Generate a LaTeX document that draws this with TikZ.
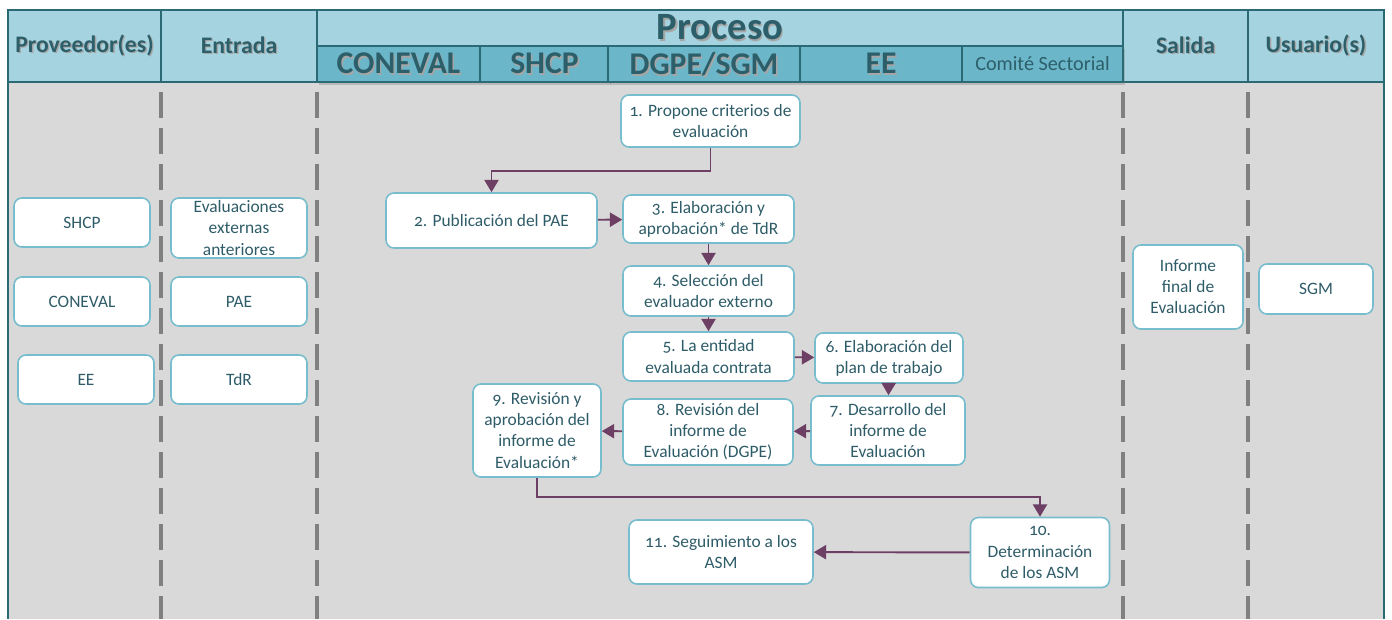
\documentclass[tikz,border=0pt]{standalone}
\usepackage{fontspec}
\setmainfont{Carlito}[Numbers=OldStyle]
\usetikzlibrary{arrows.meta,positioning,shadows}

\definecolor{hdfill}{HTML}{A5D3DF}
\definecolor{subfill}{HTML}{6CB6CA}
\definecolor{hdline}{HTML}{2B6A74}
\definecolor{hdtext}{HTML}{2C5F69}
\definecolor{boxline}{HTML}{77BDCD}
\definecolor{boxtext}{HTML}{2E5C68}
\definecolor{bodygray}{HTML}{D9D9D9}
\definecolor{sepgray}{HTML}{808080}
\definecolor{arrcol}{HTML}{6E3F65}

\newcommand{\shtxt}[1]{\rlap{\kern0.8pt\raisebox{-0.8pt}{\textcolor{black!35}{#1}}}#1}

\begin{document}
\begin{tikzpicture}[
    x=0.02cm, y=-0.02cm,
    hdr/.style={draw=hdline, line width=1pt, fill=hdfill, text=hdtext, font=\bfseries\fontsize{13.5}{15}\selectfont, inner sep=0pt},
    sub/.style={hdr, fill=subfill, font=\bfseries\fontsize{18}{20}\selectfont, minimum height=0.72cm, text depth=0.5pt,
        drop shadow={shadow xshift=1pt, shadow yshift=-1.5pt, opacity=0.35}},
    box/.style={draw=boxline, line width=0.9pt, rounded corners=4.5pt, fill=white, text=boxtext, align=center, font=\fontsize{9.9}{12}\selectfont, inner sep=1pt},
    arr/.style={-{Triangle[length=7pt, width=8pt]}, line width=1.1pt, draw=arrcol},
    sep/.style={line width=2.8pt, draw=sepgray, dash pattern=on 15pt off 5.5pt, dash phase=16pt}
]
\useasboundingbox (0,0) rectangle (1392,619);

% fondo y carriles
\fill[bodygray] (8,82) rectangle (1384,619);
\draw[hdline, line width=1pt] (8,82) -- (8,619);
\draw[hdline, line width=1pt] (1384,82) -- (1384,619);
\foreach \xs in {161,317,1123,1248}
    \draw[sep] (\xs,84) -- (\xs,619);

% encabezados
\node[hdr, minimum width=3.06cm, minimum height=1.44cm] (hprov) at (84.5,46) {\shtxt{Proveedor(es)}};
\node[hdr, minimum width=3.12cm, minimum height=1.44cm] (hent) at (239,46) {\shtxt{Entrada}};
\node[hdr, minimum width=16.12cm, minimum height=0.72cm, font=\bfseries\fontsize{22}{24}\selectfont] (hproc) at (720,28) {\shtxt{Proceso}};
\node[hdr, minimum width=2.5cm, minimum height=1.44cm] (hsal) at (1185.5,46) {\shtxt{Salida}};
\node[hdr, minimum width=2.72cm, minimum height=1.44cm] (husu) at (1316,46) {\shtxt{Usuario(s)}};

\node[sub, minimum width=3.26cm] (sconeval) at (398.5,64) {\shtxt{CONEVAL}};
\node[sub, minimum width=2.58cm] (sshcp) at (544.5,64) {\shtxt{SHCP}};
\node[sub, minimum width=3.84cm] (sdgpe) at (704,64) {\shtxt{DGPE/SGM}};
\node[sub, minimum width=3.24cm] (see) at (881,64) {\shtxt{EE}};
\node[sub, minimum width=3.22cm, font=\fontsize{11.5}{13}\selectfont] (scomite) at (1042.5,64) {Comité Sectorial};

% proveedores y entradas
\node[box, minimum width=2.72cm, minimum height=0.98cm] (pshcp) at (82,222.5) {SHCP};
\node[box, minimum width=2.72cm, minimum height=0.98cm] (pconeval) at (82,301.5) {CONEVAL};
\node[box, minimum width=2.72cm, minimum height=0.98cm] (pee) at (86,379.5) {EE};
\node[box, minimum width=2.72cm, minimum height=1.2cm] (eeval) at (239,228) {Evaluaciones\\externas\\anteriores};
\node[box, minimum width=2.72cm, minimum height=0.98cm] (epae) at (239,301.5) {PAE};
\node[box, minimum width=2.72cm, minimum height=0.98cm] (etdr) at (239,379.5) {TdR};

% proceso
\node[box, minimum width=3.58cm, minimum height=1.04cm] (p1) at (710.5,121) {1. Propone criterios de\\evaluación};
\node[box, minimum width=4.22cm, minimum height=1.1cm] (p2) at (491.5,220.5) {2. Publicación del PAE};
\node[box, minimum width=3.42cm, minimum height=0.96cm] (p3) at (708.5,219) {3. Elaboración y\\aprobación* de TdR};
\node[box, minimum width=3.42cm, minimum height=1.0cm] (p4) at (708.5,291) {4. Selección del\\evaluador externo};
\node[box, minimum width=3.42cm, minimum height=0.98cm] (p5) at (708.5,356.5) {5. La entidad\\evaluada contrata};
\node[box, minimum width=2.96cm, minimum height=1.0cm] (p6) at (889,358) {6. Elaboración del\\plan de trabajo};
\node[box, minimum width=3.08cm, minimum height=1.38cm] (p7) at (888,430.5) {7. Desarrollo del\\informe de\\Evaluación};
\node[box, minimum width=3.4cm, minimum height=1.32cm] (p8) at (708,432) {8. Revisión del\\informe de\\Evaluación (DGPE)};
\node[box, minimum width=2.56cm, minimum height=1.86cm] (p9) at (537,430.5) {9. Revisión y\\aprobación del\\informe de\\Evaluación*};
\node[box, minimum width=2.78cm, minimum height=1.4cm] (p10) at (1040,552.5) {10.\\Determinación\\de los ASM};
\node[box, minimum width=3.68cm, minimum height=1.28cm] (p11) at (721,552) {11. Seguimiento a los\\ASM};

% salida y usuario
\node[box, minimum width=2.2cm, minimum height=1.68cm] (sinf) at (1188,287) {Informe\\final de\\Evaluación};
\node[box, minimum width=2.28cm, minimum height=1.0cm] (usgm) at (1316,289) {SGM};

\draw[arr] (p1.south) -- ++(0,23) -| (p2.north);
\draw[arr] (p2) -- (p3);
\draw[arr] (p3) -- (p4);
\draw[arr] (p4) -- (p5);
\draw[arr] (p5) -- (p6);
\draw[arr] (p6) -- (p7);
\draw[arr] (p7) -- (p8);
\draw[arr] (p8) -- (p9);
\draw[arr] (p9.south) -- ++(0,19) -| (p10.north);
\draw[arr] (p10) -- (p11);
\end{tikzpicture}
\end{document}
